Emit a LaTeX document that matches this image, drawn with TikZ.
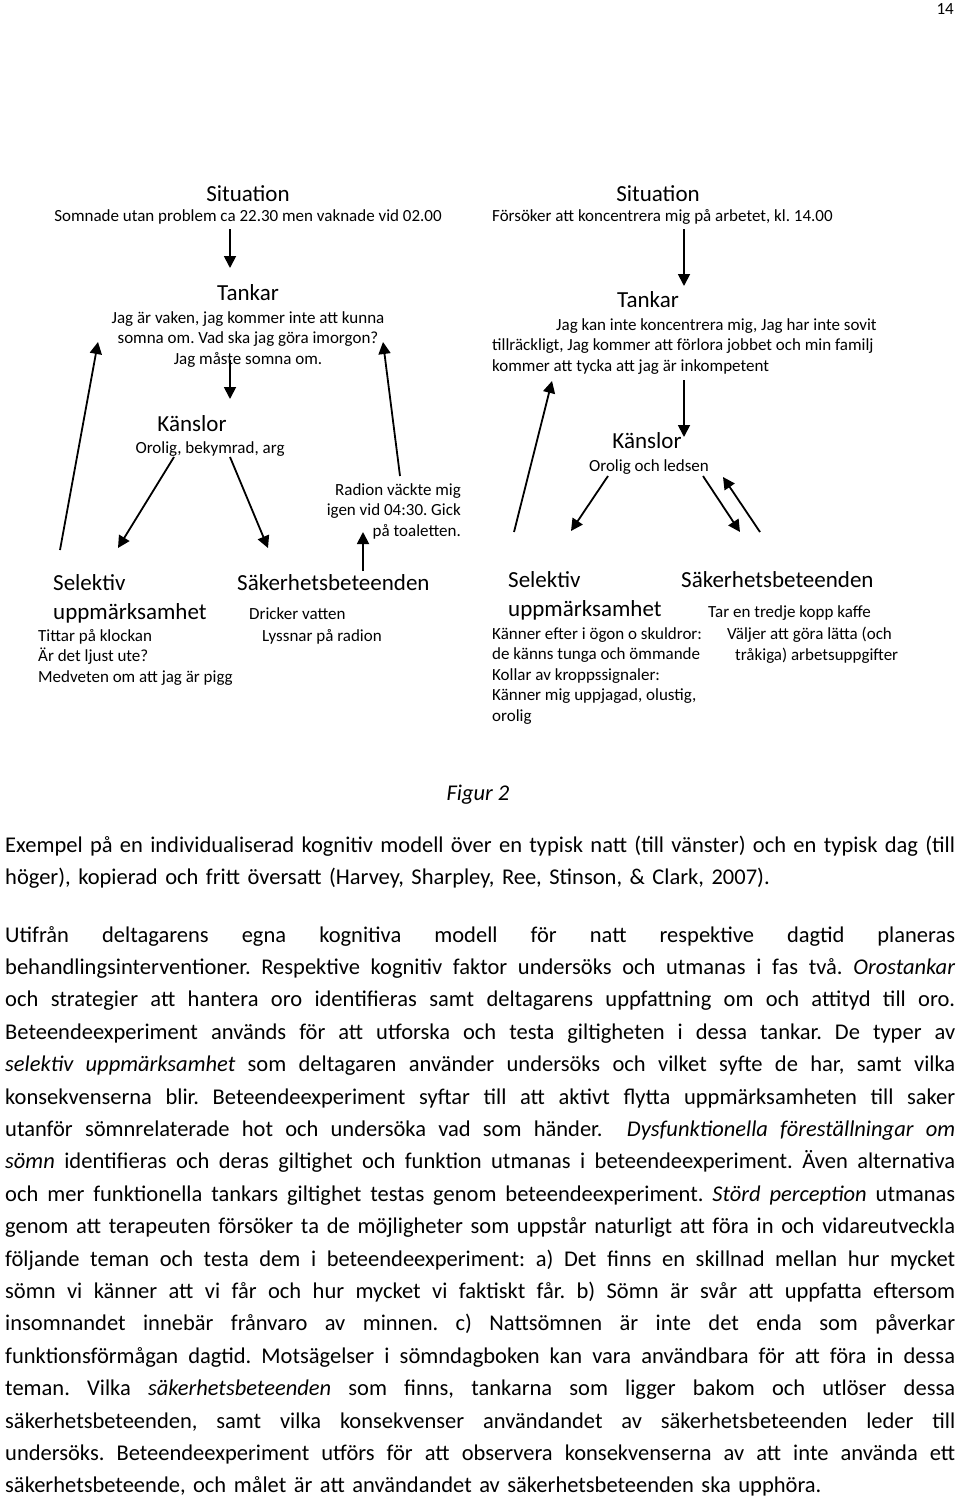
\documentclass[tikz,border=0pt]{standalone}
\usepackage{fontspec}
\setmainfont{Carlito}
\usetikzlibrary{arrows.meta}
\setlength{\parindent}{0pt}
\frenchspacing
\newcommand\jline[1]{\leavevmode\hbox to 950pt{\spaceskip=0pt\xspaceskip=0pt #1}}
\begin{document}
\begin{tikzpicture}[x=1pt,y=-1pt,
  arr/.style={line width=1.8pt,-{Triangle[length=12pt,width=12pt]}},
  head/.style={font=\fontsize{23}{29}\selectfont, inner sep=0pt},
  small/.style={font=\fontsize{17}{20.5}\selectfont, inner sep=0pt},
  body/.style={font=\fontsize{22.5}{32.4}\selectfont, inner sep=0pt},
]
\useasboundingbox[fill=white] (0,0) rectangle (960,1501);

\node[small, anchor=base east] (pg) at (954,15) {14};

% ---------- left model (night) ----------
% (multi-line nodes: base = baseline of last line)
\node[head, anchor=base] (Lsit) at (248,201) {Situation};
\node[small, anchor=base] (Lsittxt) at (248,221) {Somnade utan problem ca 22.30 men vaknade vid 02.00};
\node[head, anchor=base] (Ltank) at (248,300) {Tankar};
\node[small, anchor=base, align=center] (Ltanktxt) at (248,364) {Jag är vaken, jag kommer inte att kunna\\somna om. Vad ska jag göra imorgon?\\Jag måste somna om.};
\node[head, anchor=base] (Lkans) at (192,431) {Känslor};
\node[small, anchor=base] (Lkanstxt) at (210,453) {Orolig, bekymrad, arg};
\node[small, anchor=base east, align=right] (Lradio) at (461,536) {Radion väckte mig\\igen vid 04:30. Gick\\på toaletten.};
\node[head, anchor=base west, align=left] (Lsel) at (53,619) {Selektiv\\uppmärksamhet};
\node[small, anchor=base west, align=left] (Lseltxt) at (38,682) {Tittar på klockan\\Är det ljust ute?\\Medveten om att jag är pigg};
\node[head, anchor=base west] (Lsak) at (237,590) {Säkerhetsbeteenden};
\node[small, anchor=base west] (Lsak1) at (249,619) {Dricker vatten};
\node[small, anchor=base west] (Lsak2) at (262,641) {Lyssnar på radion};

\coordinate (a1s) at (230,229); \coordinate (a1e) at (230,268);
\coordinate (a2s) at (230,360); \coordinate (a2e) at (230,399);
\coordinate (a3s) at (174,457); \coordinate (a3e) at (118,548);
\coordinate (a4s) at (230,457); \coordinate (a4e) at (268,548);
\coordinate (a5s) at (60,550);  \coordinate (a5e) at (98,342);
\coordinate (a6s) at (400,476); \coordinate (a6e) at (383,342);
\coordinate (a7s) at (363,571); \coordinate (a7e) at (363,532);
\draw[arr] (a1s) -- (a1e);
\draw[arr] (a2s) -- (a2e);
\draw[arr] (a3s) -- (a3e);
\draw[arr] (a4s) -- (a4e);
\draw[arr] (a5s) -- (a5e);
\draw[arr] (a6s) -- (a6e);
\draw[arr] (a7s) -- (a7e);

% ---------- right model (day) ----------
\node[head, anchor=base] (Rsit) at (658,201) {Situation};
\node[small, anchor=base west] (Rsittxt) at (492,221) {Försöker att koncentrera mig på arbetet, kl. 14.00};
\node[head, anchor=base] (Rtank) at (648,307) {Tankar};
\node[small, anchor=base west] (Rtank1) at (556,330) {Jag kan inte koncentrera mig, Jag har inte sovit};
\node[small, anchor=base west, align=left] (Rtank2) at (492,371) {tillräckligt, Jag kommer att förlora jobbet och min familj\\kommer att tycka att jag är inkompetent};
\node[head, anchor=base] (Rkans) at (647,448) {Känslor};
\node[small, anchor=base] (Rkanstxt) at (649,471) {Orolig och ledsen};
\node[head, anchor=base west, align=left] (Rsel) at (508,616) {Selektiv\\uppmärksamhet};
\node[small, anchor=base west, align=left] (Rseltxt) at (492,721) {Känner efter i ögon o skuldror:\\de känns tunga och ömmande\\Kollar av kroppssignaler:\\Känner mig uppjagad, olustig,\\orolig};
\node[head, anchor=base west] (Rsak) at (681,587) {Säkerhetsbeteenden};
\node[small, anchor=base west] (Rsak1) at (708,617) {Tar en tredje kopp kaffe};
\node[small, anchor=base west] (Rsak2) at (727,639) {Väljer att göra lätta (och};
\node[small, anchor=base west] (Rsak3) at (735,660) {tråkiga) arbetsuppgifter};

\coordinate (b1s) at (684,229); \coordinate (b1e) at (684,286);
\coordinate (b2s) at (684,380); \coordinate (b2e) at (684,437);
\coordinate (b3s) at (608,476); \coordinate (b3e) at (571,531);
\coordinate (b4s) at (703,476); \coordinate (b4e) at (740,532);
\coordinate (b5s) at (760,532); \coordinate (b5e) at (723,477);
\coordinate (b6s) at (514,532); \coordinate (b6e) at (552,381);
\draw[arr] (b1s) -- (b1e);
\draw[arr] (b2s) -- (b2e);
\draw[arr] (b3s) -- (b3e);
\draw[arr] (b4s) -- (b4e);
\draw[arr] (b5s) -- (b5e);
\draw[arr] (b6s) -- (b6e);

% ---------- caption and body (text-width nodes: base = first line) ----------
\node[body, anchor=base] (fig) at (478,800) {\itshape Figur 2};
\node[body, anchor=base west, text width=950pt, align=left] (cap) at (5,852) {%
\jline{Exempel på en individualiserad kognitiv modell över en typisk natt (till vänster) och en typisk dag (till}\\
höger), kopierad och fritt översatt (Harvey, Sharpley, Ree, Stinson, \& Clark, 2007).};
\node[body, anchor=base west, text width=950pt, align=left] (para) at (5,942) {%
\jline{Utifrån deltagarens egna kognitiva modell för natt respektive dagtid planeras}\\
\jline{behandlingsinterventioner. Respektive kognitiv faktor undersöks och utmanas i fas två. \textit{Orostankar}}\\
\jline{och strategier att hantera oro identifieras samt deltagarens uppfattning om och attityd till oro.}\\
\jline{Beteendeexperiment används för att utforska och testa giltigheten i dessa tankar. De typer av}\\
\jline{\textit{selektiv uppmärksamhet} som deltagaren använder undersöks och vilket syfte de har, samt vilka}\\
\jline{konsekvenserna blir. Beteendeexperiment syftar till att aktivt flytta uppmärksamheten till saker}\\
\jline{utanför sömnrelaterade hot och undersöka vad som händer.\ \ \textit{Dysfunktionella föreställningar om}}\\
\jline{\textit{sömn} identifieras och deras giltighet och funktion utmanas i beteendeexperiment. Även alternativa}\\
\jline{och mer funktionella tankars giltighet testas genom beteendeexperiment. \textit{Störd perception} utmanas}\\
\jline{genom att terapeuten försöker ta de möjligheter som uppstår naturligt att föra in och vidareutveckla}\\
\jline{följande teman och testa dem i beteendeexperiment: a) Det finns en skillnad mellan hur mycket}\\
\jline{sömn vi känner att vi får och hur mycket vi faktiskt får. b) Sömn är svår att uppfatta eftersom}\\
\jline{insomnandet innebär frånvaro av minnen. c) Nattsömnen är inte det enda som påverkar}\\
\jline{funktionsförmågan dagtid. Motsägelser i sömndagboken kan vara användbara för att föra in dessa}\\
\jline{teman. Vilka \textit{säkerhetsbeteenden} som finns, tankarna som ligger bakom och utlöser dessa}\\
\jline{säkerhetsbeteenden, samt vilka konsekvenser användandet av säkerhetsbeteenden leder till}\\
\jline{undersöks. Beteendeexperiment utförs för att observera konsekvenserna av att inte använda ett}\\
säkerhetsbeteende, och målet är att användandet av säkerhetsbeteenden ska upphöra.};
\end{tikzpicture}
\end{document}
